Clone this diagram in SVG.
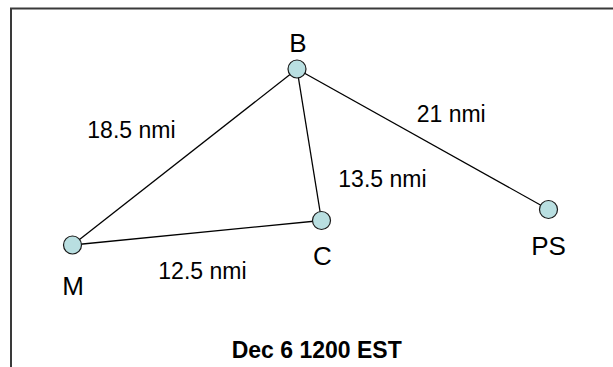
<svg xmlns="http://www.w3.org/2000/svg" width="613" height="367" viewBox="0 0 613 367">
  <style>
    .edge { stroke: #000; stroke-width: 1.3; fill: none; }
    .node { fill: #b9dfe1; stroke: #1a1a1a; stroke-width: 1.2; }
    .name { font-family: "Liberation Sans", Arial, sans-serif; font-size: 26px; fill: #000; text-anchor: middle; }
    .dist { font-family: "Liberation Sans", Arial, sans-serif; font-size: 23px; fill: #000; }
    .title { font-family: "Liberation Sans", Arial, sans-serif; font-size: 23px; font-weight: bold; fill: #000; }
    .frame { stroke: #3a3a3a; stroke-width: 2; fill: none; }
  </style>
  <rect width="613" height="367" fill="#fff"/>
  <!-- page frame: top and left edges only -->
  <path class="frame" d="M11 367 V8.5 H613"/>

  <g id="connectors">
    <line class="edge" x1="297" y1="69" x2="72.5" y2="245"/>
    <line class="edge" x1="297" y1="69" x2="321.5" y2="220.5"/>
    <line class="edge" x1="297" y1="69" x2="548.5" y2="209.5"/>
    <line class="edge" x1="72.5" y1="245" x2="321.5" y2="220.5"/>
    <text class="dist" x="87.3" y="138.3">18.5 nmi</text>
    <text class="dist" x="416.7" y="121.7">21 nmi</text>
    <text class="dist" x="338.3" y="186.7">13.5 nmi</text>
    <text class="dist" x="158.3" y="279">12.5 nmi</text>
  </g>

  <g id="node-B">
    <circle class="node" cx="297" cy="69" r="9"/>
    <text class="name" x="298" y="52">B</text>
  </g>
  <g id="node-M">
    <circle class="node" cx="72.5" cy="245" r="9"/>
    <text class="name" x="73" y="295">M</text>
  </g>
  <g id="node-C">
    <circle class="node" cx="321.5" cy="220.5" r="9"/>
    <text class="name" x="322.5" y="265">C</text>
  </g>
  <g id="node-PS">
    <circle class="node" cx="548.5" cy="209.5" r="9"/>
    <text class="name" x="548.5" y="255">PS</text>
  </g>

  <text class="title" x="231.7" y="358.3">Dec 6 1200 EST</text>
</svg>
